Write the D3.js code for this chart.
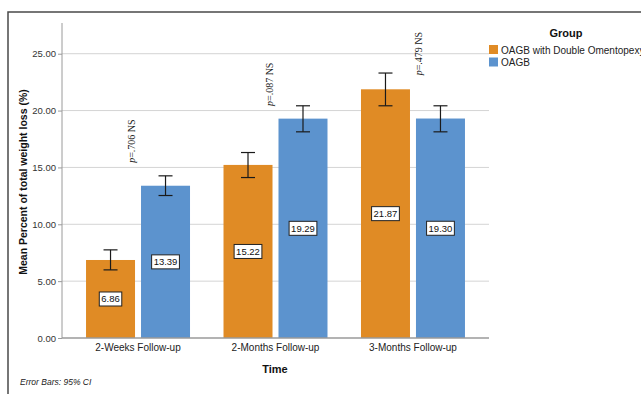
<!DOCTYPE html>
<html>
<head>
<meta charset="utf-8">
<script src="https://cdn.jsdelivr.net/npm/d3@7"></script>
<style>
  body { margin: 0; background: #fff; }
  svg { display: block; font-family: "Liberation Sans", Arial, sans-serif; }
</style>
</head>
<body>
<svg width="641" height="394"></svg>
<script>
// data
var times = ["2-Weeks Follow-up", "2-Months Follow-up", "3-Months Follow-up"];
var groups = ["OAGB with Double Omentopexy", "OAGB"];
var meanDO = [6.86, 15.22, 21.87];
var meanOAGB = [13.39, 19.29, 19.30];
var lowDO = [5.99, 14.11, 20.42];
var highDO = [7.75, 16.31, 23.30];
var lowOAGB = [12.53, 18.13, 18.13];
var highOAGB = [14.26, 20.42, 20.42];
var pTexts = ["=.706 NS", "=.087 NS", "=.479 NS"];
var pAt = [15.4, 20.4, 23.1];
var yTicks = [0, 5, 10, 15, 20, 25];

var colors = ["#e08b25", "#5c93ce"];

var svg = d3.select("svg");

var rows = [];
times.forEach(function (t, i) {
  rows.push({time: t, group: groups[0], value: meanDO[i], lo: lowDO[i], hi: highDO[i]});
  rows.push({time: t, group: groups[1], value: meanOAGB[i], lo: lowOAGB[i], hi: highOAGB[i]});
});

// outer frame (cut at right and bottom)
svg.append("path").
attr("d", "M8,394 V12 H641").
attr("fill", "none").
attr("stroke", "#4a4a4a").
attr("stroke-width", 1.5);

var y = d3.scaleLinear().domain([0, 27.7]).range([338, 23]);

var x = d3.scaleBand().domain(times).range([62, 489]).paddingInner(0).paddingOuter(0.053);

var x1 = d3.scaleBand().domain(groups).range([0, x.bandwidth()]).paddingInner(0.109).paddingOuter(0.3045);

var color = d3.scaleOrdinal().domain(groups).range(colors);

// gridlines
svg.append("g").
selectAll("line").
data(yTicks.filter(function (d) {return d > 0;})).
enter().append("line").
attr("x1", 62).attr("x2", 489).
attr("y1", function (d) {return y(d);}).
attr("y2", function (d) {return y(d);}).
attr("stroke", "#d4d4d4").
attr("stroke-width", 1);

// y axis
var yAxis = svg.append("g").
attr("transform", "translate(62,0)").
call(d3.axisLeft(y).tickValues(yTicks).tickFormat(d3.format(".2f")).tickSize(4).tickPadding(2));
yAxis.select(".domain").attr("stroke", "#9a9a9a").attr("d", "M0,23V338");
yAxis.selectAll(".tick line").attr("stroke", "#9a9a9a");
yAxis.selectAll(".tick text").
attr("fill", "#333").
style("font-size", "9.5px").
style("font-family", "Liberation Sans, Arial, sans-serif");

// bars
var bars = svg.append("g").
selectAll("rect").
data(rows).
enter().append("rect").
attr("x", function (d) {return x(d.time) + x1(d.group);}).
attr("y", function (d) {return y(d.value);}).
attr("width", x1.bandwidth()).
attr("height", function (d) {return y(0) - y(d.value);}).
attr("fill", function (d) {return color(d.group);});

// x baseline
svg.append("line").
attr("x1", 62).attr("x2", 489).
attr("y1", y(0)).attr("y2", y(0)).
attr("stroke", "#9a9a9a").
attr("stroke-width", 1.5);

// x labels
svg.append("g").
selectAll("text").
data(times).
enter().append("text").
attr("x", function (d) {return x(d) + x.bandwidth() / 2;}).
attr("y", 351).
attr("text-anchor", "middle").
attr("fill", "#222").
style("font-size", "10px").
text(function (d) {return d;});

// error bars
var err = svg.append("g").attr("stroke", "#1a1a1a").attr("stroke-width", 1.2);
rows.forEach(function (d) {
  var cx = x(d.time) + x1(d.group) + x1.bandwidth() / 2;
  err.append("line").attr("x1", cx).attr("x2", cx).attr("y1", y(d.hi)).attr("y2", y(d.lo));
  err.append("line").attr("x1", cx - 7).attr("x2", cx + 7).attr("y1", y(d.hi)).attr("y2", y(d.hi));
  err.append("line").attr("x1", cx - 7).attr("x2", cx + 7).attr("y1", y(d.lo)).attr("y2", y(d.lo));
});

// value boxes at half height
var lab = svg.append("g").
selectAll("g").
data(rows).
enter().append("g").
attr("transform", function (d) {
  return "translate(" + (x(d.time) + x1(d.group) + x1.bandwidth() / 2) + "," + y(d.value / 2) + ")";
});
lab.append("text").
attr("text-anchor", "middle").
attr("dy", "0.35em").
attr("fill", "#111").
style("font-size", "9.5px").
text(function (d) {return d.value.toFixed(2);});
lab.each(function () {
  var g = d3.select(this);
  var b = g.select("text").node().getBBox();
  g.insert("rect", "text").
  attr("x", b.x - 2).attr("y", -7).
  attr("width", b.width + 4).attr("height", 14).
  attr("fill", "#fff").
  attr("stroke", "#222").
  attr("stroke-width", 1);
});

// p-value notes
var pNudge = [-6, -6, 6];
svg.append("g").
selectAll("text").
data(pTexts).
enter().append("text").
attr("transform", function (d, i) {
  return "translate(" + (x(times[i]) + x.bandwidth() / 2 + pNudge[i] + 3) + "," + y(pAt[i]) + ") rotate(-90)";
}).
attr("fill", "#222").
style("font-family", "Liberation Serif, Times New Roman, serif").
style("font-size", "10px").
each(function (d) {
  var t = d3.select(this);
  t.append("tspan").style("font-style", "italic").text("p");
  t.append("tspan").text(d);
});

// axis titles
svg.append("text").
attr("transform", "translate(27,182) rotate(-90)").
attr("text-anchor", "middle").
attr("fill", "#111").
style("font-size", "10.5px").
style("font-weight", "bold").
text("Mean Percent of total weight loss (%)");

svg.append("text").
attr("x", 275).attr("y", 373).
attr("text-anchor", "middle").
attr("fill", "#111").
style("font-size", "11px").
style("font-weight", "bold").
text("Time");

svg.append("text").
attr("x", 20).attr("y", 385).
attr("fill", "#222").
style("font-size", "8.5px").
style("font-style", "italic").
text("Error Bars: 95% CI");

// legend
svg.append("text").
attr("x", 566).attr("y", 37).
attr("text-anchor", "middle").
attr("fill", "#111").
style("font-size", "11px").
style("font-weight", "bold").
text("Group");

var leg = svg.append("g").
selectAll("g").
data(groups).
enter().append("g").
attr("transform", function (d, i) {return "translate(489," + (45 + i * 12.5) + ")";});
leg.append("rect").
attr("width", 9).attr("height", 9).
attr("fill", function (d) {return color(d);});
leg.append("text").
attr("x", 12).attr("y", 8.5).
attr("fill", "#222").
style("font-size", "10px").
text(function (d) {return d;});
</script>
</body>
</html>
